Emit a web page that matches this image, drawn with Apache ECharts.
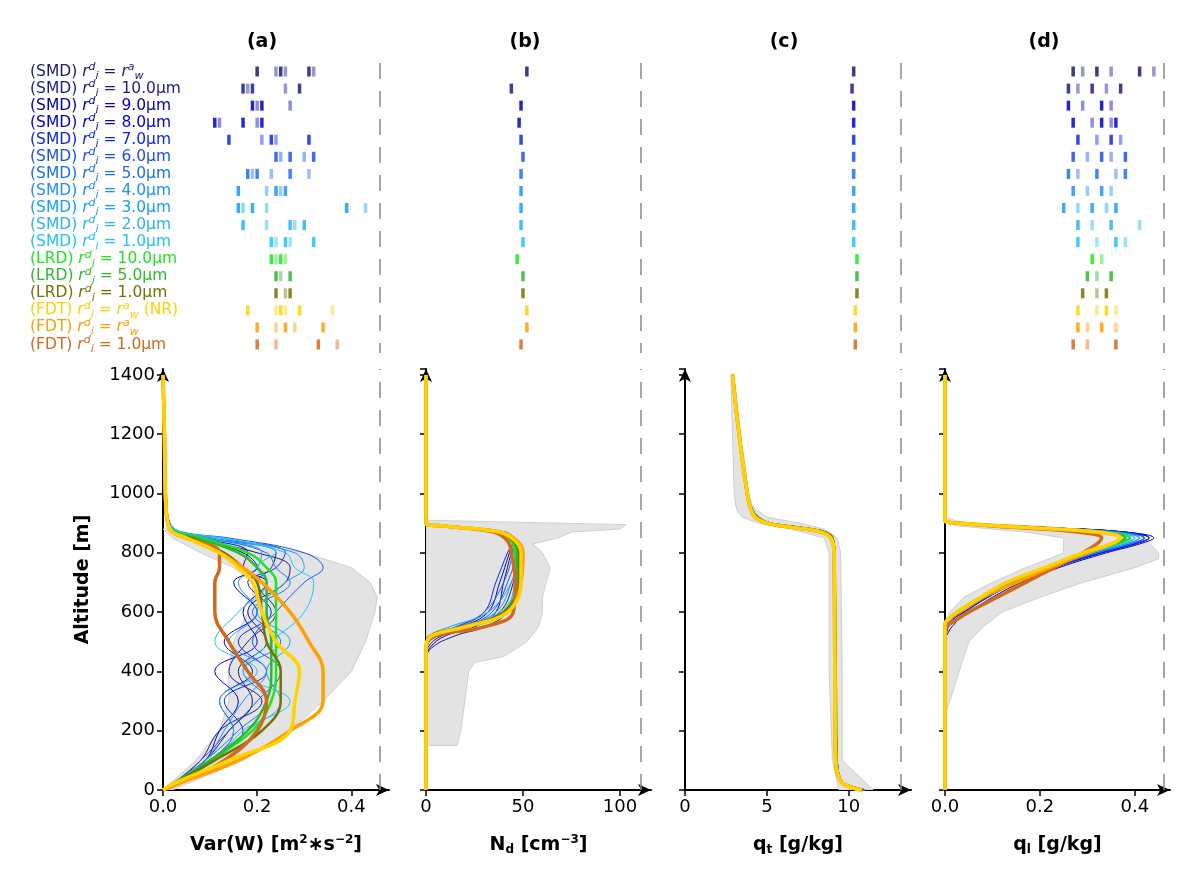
<!DOCTYPE html>
<html><head><meta charset="utf-8">
<script src="https://cdn.jsdelivr.net/npm/echarts@6/dist/echarts.min.js"></script>
<style>html,body{margin:0;background:#fff}#c{width:1200px;height:890px}</style>
</head><body><div id="c"></div>
<script>
// series labels and colours (top to bottom)
const labels = [
  '(SMD) {r|r}{sp|d}{sb|i} = {r|r}{sp|a}{sb|w}',
  '(SMD) {r|r}{sp|d}{sb|i} = 10.0µm', '(SMD) {r|r}{sp|d}{sb|i} = 9.0µm',
  '(SMD) {r|r}{sp|d}{sb|i} = 8.0µm', '(SMD) {r|r}{sp|d}{sb|i} = 7.0µm',
  '(SMD) {r|r}{sp|d}{sb|i} = 6.0µm', '(SMD) {r|r}{sp|d}{sb|i} = 5.0µm',
  '(SMD) {r|r}{sp|d}{sb|i} = 4.0µm', '(SMD) {r|r}{sp|d}{sb|i} = 3.0µm',
  '(SMD) {r|r}{sp|d}{sb|i} = 2.0µm', '(SMD) {r|r}{sp|d}{sb|i} = 1.0µm',
  '(LRD) {r|r}{sp|d}{sb|i} = 10.0µm', '(LRD) {r|r}{sp|d}{sb|i} = 5.0µm',
  '(LRD) {r|r}{sp|d}{sb|i} = 1.0µm',
  '(FDT) {r|r}{sp|d}{sb|i} = {r|r}{sp|a}{sb|w} (NR)',
  '(FDT) {r|r}{sp|d}{sb|i} = {r|r}{sp|a}{sb|w}', '(FDT) {r|r}{sp|d}{sb|i} = 1.0µm'
];
const colors = ['#191970','#1c1c8e','#0000b4','#0000d2','#0a28e6','#1e50f0','#1e6ef5',
  '#1e90ff','#14a0ff','#28b4f0','#1ec3ff','#1ee61e','#2db92d','#737300','#ffd200','#ffa000','#d2691e'];
const widths = [1,1,1,1,1,1,1,1,1,1,1,2.5,2.5,2.5,3.5,3.5,3.5];
const zOrder = [2,2,2,2,2,2,2,2,2,2,2,3,3,3,6,5,4];

// (a) Var(W)
const altA = [0,20,100,200,300,400,500,600,700,750,800,850,870,900,1000,1200,1400];
const varW = [
  [0,0.02,0.09,0.14,0.19,0.16,0.22,0.18,0.26,0.27,0.20,0.06,0.02,0.01,0.005,0.003,0],
  [0,0.02,0.08,0.12,0.21,0.14,0.18,0.24,0.20,0.23,0.24,0.09,0.03,0.01,0.006,0.003,0],
  [0,0.02,0.10,0.15,0.12,0.19,0.13,0.20,0.15,0.20,0.17,0.07,0.02,0.01,0.005,0.003,0],
  [0,0.02,0.09,0.12,0.16,0.11,0.20,0.17,0.22,0.17,0.18,0.08,0.03,0.01,0.005,0.003,0],
  [0,0.02,0.10,0.17,0.13,0.22,0.16,0.23,0.18,0.24,0.26,0.10,0.03,0.01,0.006,0.003,0],
  [0,0.02,0.08,0.14,0.20,0.25,0.19,0.24,0.30,0.34,0.30,0.14,0.04,0.015,0.006,0.003,0],
  [0,0.02,0.09,0.16,0.22,0.17,0.25,0.19,0.27,0.24,0.22,0.10,0.03,0.01,0.006,0.003,0],
  [0,0.02,0.09,0.13,0.17,0.22,0.14,0.20,0.16,0.20,0.21,0.09,0.03,0.01,0.005,0.003,0],
  [0,0.02,0.11,0.18,0.25,0.22,0.27,0.20,0.26,0.30,0.28,0.12,0.04,0.015,0.006,0.003,0],
  [0,0.02,0.10,0.15,0.12,0.20,0.11,0.16,0.22,0.20,0.24,0.10,0.03,0.01,0.005,0.003,0],
  [0,0.02,0.11,0.17,0.27,0.17,0.23,0.30,0.32,0.28,0.26,0.13,0.04,0.015,0.006,0.003,0],
  [0,0.02,0.10,0.19,0.23,0.24,0.24,0.24,0.24,0.22,0.18,0.08,0.03,0.01,0.006,0.003,0],
  [0,0.02,0.10,0.18,0.22,0.23,0.23,0.22,0.22,0.20,0.16,0.07,0.02,0.01,0.005,0.003,0],
  [0,0.02,0.11,0.21,0.25,0.25,0.22,0.21,0.20,0.17,0.13,0.06,0.02,0.01,0.005,0.003,0],
  [0,0.02,0.14,0.27,0.28,0.29,0.24,0.21,0.19,0.16,0.12,0.05,0.02,0.01,0.005,0.003,0],
  [0,0.03,0.16,0.27,0.34,0.34,0.31,0.27,0.21,0.17,0.12,0.05,0.02,0.01,0.005,0.003,0],
  [0,0.03,0.13,0.20,0.22,0.18,0.14,0.11,0.11,0.12,0.12,0.05,0.02,0.01,0.005,0.003,0]
];
const envAltA = [0,100,200,300,400,500,600,650,700,750,800,850,880];
const envLoA  = [0,0.07,0.12,0.14,0.14,0.15,0.18,0.19,0.19,0.15,0.08,0.02,0];
const envHiA  = [0.02,0.17,0.27,0.34,0.40,0.43,0.45,0.455,0.44,0.40,0.30,0.12,0.01];

// (b) Nd
const altB = [0,440,480,520,550,600,700,800,840,870,890,900,1400];
const nd = [
  [0,0,3,15,30,42,47,48,47,40,12,0,0],
  [0,0,1,8,22,38,45,47,46,40,12,0,0],
  [0,0,2,10,25,36,40,44,46,40,12,0,0],
  [0,0,0,5,18,32,38,43,45,41,12,0,0],
  [0,0,0,4,16,30,36,42,45,40,11,0,0],
  [0,0,0,6,20,34,42,46,46,40,12,0,0],
  [0,0,0,3,15,30,40,45,46,40,11,0,0],
  [0,0,0,4,18,36,44,47,46,40,11,0,0],
  [0,0,0,2,12,32,44,48,47,40,11,0,0],
  [0,0,0,5,20,40,46,48,47,40,11,0,0],
  [0,0,0,3,17,38,47,48,47,40,11,0,0],
  [0,0,0,4,22,40,47,46,44,38,10,0,0],
  [0,0,0,3,20,40,47,47,45,38,10,0,0],
  [0,0,0,2,18,40,48,48,45,38,10,0,0],
  [0,0,0,3,20,42,49,49,46,38,10,0,0],
  [0,0,0,3,20,42,49,50,47,38,10,0,0],
  [0,0,0,5,30,45,46,44,42,35,10,0,0]
];
const envAltB = [150,200,300,400,430,450,500,550,600,650,700,750,800,830,850,870,880,895,910];
const envLoB  = [0,0,0,0,0,0,0,0,0,0,0,0,0,0,0,0,0,0,0];
const envHiB  = [16,18,20,22,25,40,52,58,60,60,62,64,60,55,68,75,100,103,0];

// (c) qt
const altC = [0,10,30,100,400,800,850,870,880,890,900,920,950,1000,1200,1400];
const qtSMD = [11.0,10.3,9.6,9.3,9.2,9.15,9.0,8.6,7.8,6.5,5.3,4.5,4.1,3.8,3.3,2.9];
const qtLRD = [10.9,10.2,9.5,9.25,9.2,9.1,9.0,8.5,7.6,6.3,5.1,4.4,4.0,3.8,3.3,2.9];
const qtFDT = [10.8,10.1,9.5,9.2,9.15,9.1,8.9,8.3,7.3,6.0,5.0,4.3,4.0,3.8,3.3,2.9];
const envAltC = [0,100,400,800,850,880,900,920,940,960,1000,1200,1400];
const envLoC  = [9.4,9.0,8.8,8.8,8.5,6.5,4.5,3.5,3.2,3.1,3.0,2.9,2.8];
const envHiC  = [11.5,9.6,9.6,9.5,9.3,8.5,7.0,5.0,4.5,4.1,3.9,3.4,3.0];

// (d) ql
const altD = [0,500,540,560,580,600,650,700,750,800,830,850,870,885,900,910,1400];
const ql = [
  [0,0,0,0.005,0.015,0.03,0.08,0.15,0.23,0.33,0.40,0.43,0.38,0.22,0.05,0,0],
  [0,0,0.005,0.01,0.02,0.04,0.09,0.15,0.23,0.32,0.39,0.42,0.37,0.21,0.04,0,0],
  [0,0,0.01,0.02,0.03,0.05,0.10,0.16,0.24,0.34,0.41,0.44,0.38,0.22,0.05,0,0],
  [0,0,0,0.01,0.02,0.04,0.09,0.15,0.23,0.33,0.40,0.43,0.38,0.22,0.05,0,0],
  [0,0,0,0.01,0.02,0.04,0.09,0.15,0.23,0.33,0.40,0.43,0.37,0.21,0.04,0,0],
  [0,0,0,0.01,0.02,0.035,0.085,0.15,0.23,0.32,0.39,0.42,0.37,0.21,0.04,0,0],
  [0,0,0,0.005,0.015,0.035,0.085,0.14,0.22,0.32,0.39,0.42,0.36,0.20,0.04,0,0],
  [0,0,0,0.005,0.015,0.03,0.08,0.14,0.22,0.31,0.38,0.41,0.36,0.20,0.04,0,0],
  [0,0,0,0,0.01,0.03,0.08,0.14,0.22,0.31,0.38,0.41,0.35,0.20,0.04,0,0],
  [0,0,0,0,0.01,0.025,0.075,0.14,0.22,0.31,0.37,0.40,0.35,0.19,0.04,0,0],
  [0,0,0,0,0.01,0.025,0.075,0.14,0.22,0.31,0.37,0.40,0.35,0.19,0.04,0,0],
  [0,0,0,0,0.01,0.025,0.075,0.14,0.22,0.30,0.36,0.39,0.33,0.18,0.03,0,0],
  [0,0,0,0,0.01,0.025,0.075,0.14,0.21,0.30,0.35,0.38,0.33,0.17,0.03,0,0],
  [0,0,0,0,0.01,0.025,0.075,0.13,0.21,0.29,0.35,0.37,0.32,0.17,0.03,0,0],
  [0,0,0,0,0.01,0.025,0.075,0.13,0.21,0.29,0.35,0.37,0.32,0.17,0.03,0,0],
  [0,0,0,0,0.01,0.03,0.08,0.15,0.22,0.30,0.35,0.37,0.32,0.18,0.04,0,0],
  [0,0,0,0.01,0.03,0.05,0.11,0.17,0.23,0.29,0.32,0.33,0.28,0.15,0.03,0,0]
];
const envAltD = [250,300,400,500,550,600,650,700,750,780,800,850,870,890,900,920];
const envLoD  = [0,0,0,0,0,0.01,0.04,0.10,0.17,0.22,0.25,0.25,0.17,0.03,0,0];
const envHiD  = [0,0.01,0.03,0.05,0.08,0.12,0.20,0.29,0.40,0.45,0.45,0.42,0.36,0.20,0.04,0];

// rug marks in the top area
const rugA = [[0.20,0.24,0.25,0.26,0.31,0.32],[0.17,0.18,0.19,0.26,0.29],[0.19,0.20,0.21,0.27],
  [0.11,0.12,0.17,0.20,0.21],[0.14,0.21,0.23,0.24,0.31],[0.24,0.25,0.27,0.30,0.32],
  [0.18,0.19,0.20,0.23,0.27,0.31],[0.16,0.22,0.24,0.25,0.26],[0.16,0.17,0.19,0.22,0.39,0.43],
  [0.17,0.22,0.27,0.28,0.30],[0.23,0.24,0.26,0.27,0.32],[0.23,0.24,0.25,0.26],[0.24,0.25,0.27],
  [0.24,0.26,0.27],[0.18,0.24,0.25,0.26,0.29,0.36],[0.20,0.24,0.26,0.28,0.34],[0.20,0.24,0.33,0.37]];
const rugB = [[52],[44],[49],[48],[49],[50],[49],[49],[49],[49],[50],[47],[50],[50],[52],[52],[49]];
const rugC = [[10.3],[10.2],[10.3],[10.3],[10.3],[10.3],[10.3],[10.3],[10.3],[10.3],[10.3],[10.5],[10.5],[10.5],[10.4],[10.4],[10.4]];
const rugD = [[0.27,0.29,0.32,0.35,0.41,0.44],[0.26,0.28,0.31,0.34,0.37],[0.26,0.29,0.33,0.35],
  [0.27,0.31,0.33,0.35,0.36],[0.28,0.32,0.35,0.37],[0.27,0.30,0.33,0.35,0.38],
  [0.26,0.28,0.32,0.36,0.38],[0.27,0.30,0.33,0.35],[0.25,0.28,0.31,0.34,0.36],
  [0.28,0.31,0.35,0.41],[0.28,0.32,0.36,0.38],[0.31,0.33],[0.30,0.32,0.35],[0.29,0.32,0.34],
  [0.28,0.32,0.34,0.36],[0.28,0.30,0.33,0.36],[0.27,0.30,0.36]];

const F = 'DejaVu Sans';
const panels = [
  {left:163, width:226, max:0.48, interval:0.2, dash:0.464, title:'(a)', dec:1,
   name:'Var(W) [m{sp|2}∗s{sp|−2}]', alt:altA, vals:varW, env:[envAltA,envLoA,envHiA], rug:rugA},
  {left:426, width:225, max:116, interval:50, dash:110.8, title:'(b)', dec:0,
   name:'N{sb|d} [cm{sp|−3}]', alt:altB, vals:nd, env:[envAltB,envLoB,envHiB], rug:rugB},
  {left:685, width:226, max:13.8, interval:5, dash:13.2, title:'(c)', dec:0,
   name:'q{sb|t} [g/kg]', alt:altC,
   vals:colors.map((c,i)=> i<11 ? qtSMD : i<14 ? qtLRD : qtFDT), env:[envAltC,envLoC,envHiC], rug:rugC},
  {left:945, width:225, max:0.474, interval:0.2, dash:0.457, title:'(d)', dec:1,
   name:'q{sb|l} [g/kg]', alt:altD, vals:ql, env:[envAltD,envLoD,envHiD], rug:rugD}
];

const grid = [], xAxis = [], yAxis = [], series = [], title = [];
const axLine = {show:true, symbol:['none','arrow'], symbolSize:[9,13], lineStyle:{color:'#000', width:2}};
const nameRich = {sp:{fontSize:12, fontWeight:'bold', padding:[0,0,10,0], fontFamily:F},
                  sb:{fontSize:12, fontWeight:'bold', padding:[10,0,0,0], fontFamily:F}};

panels.forEach((p, k) => {
  const gb = 2*k, gt = 2*k+1;
  grid.push({left:p.left, width:p.width, top:369, bottom:100});
  grid.push({left:p.left, width:p.width, top:63, height:290});
  title.push({text:p.title, left:p.left + 94, top:28, textAlign:'center',
    textStyle:{fontFamily:F, fontWeight:'bold', fontSize:19, color:'#000'}});
  xAxis.push({type:'value', gridIndex:gb, min:0, max:p.max, interval:p.interval,
    axisLine:axLine, axisTick:{show:true, length:6, lineStyle:{width:1.5,color:'#000'}},
    splitLine:{show:false},
    axisLabel:{fontFamily:F, fontSize:18, color:'#000', showMaxLabel:false, margin:8,
      formatter:v=>v.toFixed(p.dec)},
    name:p.name, nameLocation:'middle', nameGap:44,
    nameTextStyle:{fontFamily:F, fontWeight:'bold', fontSize:19, color:'#000', rich:nameRich}});
  xAxis.push({type:'value', gridIndex:gt, min:0, max:p.max, show:false});
  yAxis.push({type:'value', gridIndex:gb, min:0, max:1420, interval:200,
    axisLine:axLine, axisTick:{show:true, length:6, lineStyle:{width:1.5,color:'#000'}},
    splitLine:{show:false},
    axisLabel:{show:k===0, fontFamily:F, fontSize:18, color:'#000', showMaxLabel:false,
      formatter:v=>String(v)},
    name:k===0 ? 'Altitude [m]' : '', nameLocation:'middle', nameGap:70,
    nameTextStyle:{fontFamily:F, fontWeight:'bold', fontSize:19, color:'#000'}});
  yAxis.push({type:'category', gridIndex:gt, inverse:true, data:labels.map((l,i)=>String(i)),
    axisLine:{show:false}, axisTick:{show:false}, splitLine:{show:false},
    axisLabel:{show:k===0, interval:0, align:'left', margin:133, fontFamily:F, fontSize:15.5,
      color:(v,i)=>colors[+v],
      formatter:v=>labels[+v],
      rich:{r:{fontStyle:'italic', fontSize:15.5, fontFamily:F},
            sp:{fontStyle:'italic', fontSize:11, fontFamily:F, padding:[0,0,9,0]},
            sb:{fontStyle:'italic', fontSize:11, fontFamily:F, padding:[9,0,0,0]}}}});

  // grey envelope
  const [ea, elo, ehi] = p.env;
  series.push({type:'custom', xAxisIndex:gb, yAxisIndex:gb, data:[[0,0]], z:1, silent:true, clip:true,
    renderItem:(params, api) => {
      const pts = ea.map((a,i)=>api.coord([ehi[i], a]));
      for (let i = ea.length-1; i >= 0; i--) pts.push(api.coord([elo[i], ea[i]]));
      return {type:'polygon', shape:{points:pts},
        style:{fill:'#e3e3e3', stroke:'#cfcfcf', lineWidth:1}};
    },
    markLine:{symbol:'none', silent:true, label:{show:false},
      lineStyle:{type:[16,12], color:'#888', width:1.5}, data:[{xAxis:p.dash}]}});

  // profiles
  p.vals.forEach((v, i) => {
    series.push({type:'line', xAxisIndex:gb, yAxisIndex:gb, smooth:0.4, showSymbol:false,
      z:zOrder[i], silent:true,
      lineStyle:{color:colors[i], width:widths[i]},
      data:p.alt.map((a,j)=>[v[j], a])});
  });

  // rug marks + dashed line top
  const rd = [];
  p.rug.forEach((r, i) => r.forEach((x, j) =>
    rd.push({value:[x, String(i)], itemStyle:{color:colors[i], opacity: j%2 ? 0.45 : 0.85}})));
  series.push({type:'scatter', xAxisIndex:gt, yAxisIndex:gt, symbol:'rect', symbolSize:[3.5,10],
    data:rd, silent:true,
    markLine:{symbol:'none', silent:true, label:{show:false},
      lineStyle:{type:[16,12], color:'#888', width:1.5}, data:[{xAxis:p.dash}]}});
});

const chart = echarts.init(document.getElementById('c'));
chart.setOption({backgroundColor:'#fff', animation:false, title, grid, xAxis, yAxis, series});
</script></body></html>
